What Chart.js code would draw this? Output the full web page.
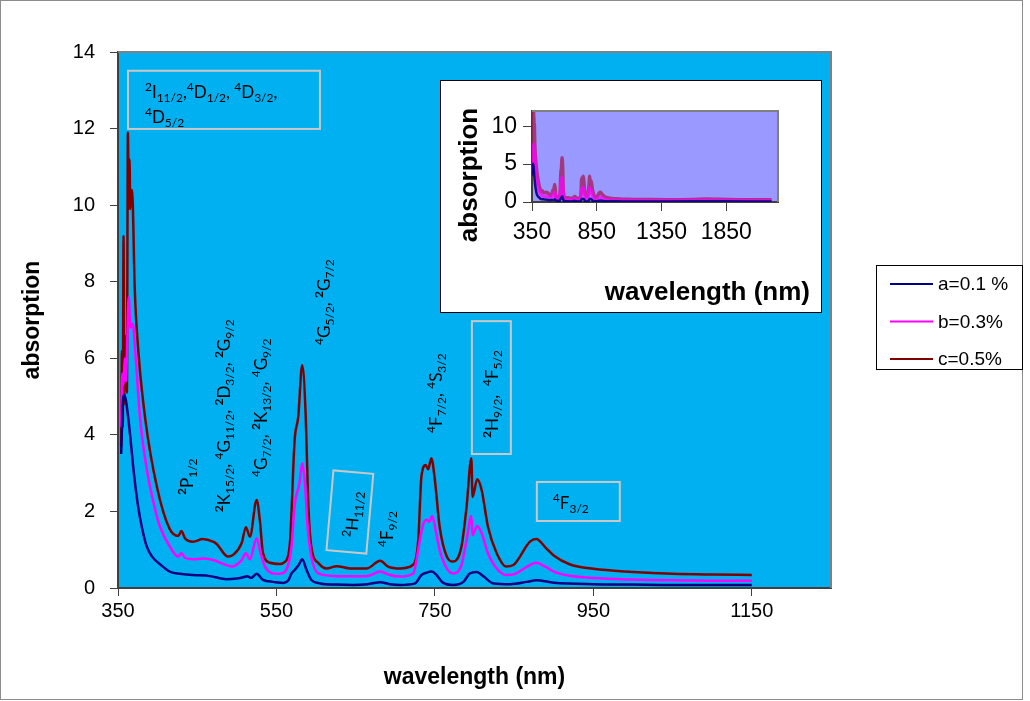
<!DOCTYPE html>
<html><head><meta charset="utf-8">
<script src="https://cdn.jsdelivr.net/npm/chart.js@4.4.0/dist/chart.umd.min.js"></script>
<style>
html,body{margin:0;padding:0;background:#fff;}
#wrap{position:relative;width:1030px;height:701px;overflow:hidden;}
#main{position:absolute;left:0;top:0;width:1030px;height:701px;}
#inset{position:absolute;left:440px;top:80px;width:382px;height:233px;}
</style></head><body>
<div id="wrap"><canvas id="main" width="1030" height="701"></canvas><canvas id="inset" width="382" height="233"></canvas></div>
<script>
// ---------------- data ----------------
const seriesLabels = ['a=0.1 %', 'b=0.3%', 'c=0.5%'];

const aWavelength = [354,356,358,360,362,365.5,369,372,376,380,386,393,403,416,428,445,466,487,500,508,513,518,525,533,546,559,565,569,573,578,582.5,588,594,605,625,647,665,681,693,706,725,733,739.5,746,752,760,773,786,794,803,811,824,845,866,878,900,950,1000,1050,1100,1150];
const aValues = [3.5,4.8,5.05,4.9,4.6,3.95,3.2,2.65,2.05,1.6,1.1,0.82,0.62,0.42,0.37,0.34,0.31,0.23,0.25,0.28,0.31,0.26,0.37,0.21,0.16,0.13,0.2,0.38,0.47,0.6,0.75,0.47,0.21,0.12,0.09,0.08,0.1,0.15,0.1,0.08,0.12,0.34,0.4,0.43,0.34,0.14,0.08,0.16,0.38,0.42,0.31,0.12,0.1,0.16,0.2,0.14,0.1,0.09,0.08,0.08,0.08];

const bWavelength = [354,355.5,357,358.5,360,361.5,363.5,365.5,368.5,372,378,386.5,397,403,416,426,430,434.5,445,457.5,470,483,493.5,506,511.5,516.5,525,530,535.5,546,554,561,569,573,579,582.5,586,589,594,603,626,664,681,693,706,722.5,731,735,739.5,743,746.5,751,756,765,773,783.5,790,796,797.5,803.5,809,817,828,840,851,870,878,890,900,920,950,1000,1050,1100,1150];
const bValues = [4.2,5.6,5.3,6.0,5.4,6.3,7.6,6.8,6.9,6.1,4.4,3.08,2.04,1.6,1.06,0.82,0.91,0.79,0.75,0.77,0.73,0.63,0.56,0.73,0.91,0.75,1.30,0.91,0.56,0.38,0.37,0.43,1.08,2.17,2.73,3.26,2.73,1.69,0.82,0.38,0.31,0.31,0.43,0.34,0.30,0.38,1.25,1.65,1.78,1.73,1.88,1.51,0.99,0.51,0.38,0.60,1.25,1.88,1.38,1.62,1.43,0.91,0.51,0.34,0.37,0.60,0.66,0.55,0.43,0.32,0.26,0.22,0.20,0.19,0.19];

const cWavelength = [354,355,356,357,357.8,358.5,359.5,360.5,361.2,362.5,363.5,364.5,365.5,366.5,368.5,371,376,384.5,399,415,426,430,434.5,445,457,470,474.5,489,495,506,511.5,516.5,525,529,533,542,554,561,567,573,577.5,582.5,587,590,594,603,613,626,643,664,681,691,706,722,729,733,738.5,741.5,745.5,750,756,765,773,783.5,790,796,797.5,803.5,809,817,828,840,849,870,878,890,900,920,950,1000,1050,1100,1150];
const cValues = [3.7,6.2,4.2,9.2,4.8,6.6,5.9,6.6,5.1,11.9,9.9,11.2,9.9,10.4,10.1,7.9,6.1,4.4,2.65,1.55,1.36,1.49,1.3,1.21,1.28,1.21,1.15,0.82,0.86,1.17,1.59,1.34,2.30,1.78,0.91,0.66,0.63,0.69,1.17,3.87,4.47,5.82,4.47,2.30,1.08,0.65,0.51,0.57,0.51,0.51,0.71,0.56,0.51,0.60,1.25,2.91,3.21,3.10,3.39,2.82,1.60,0.82,0.69,1.08,2.12,3.39,2.38,2.84,2.56,1.60,0.91,0.56,0.60,1.21,1.28,1.05,0.85,0.62,0.50,0.42,0.37,0.35,0.34];

// extension of the spectra shown only in the inset (1150-2200 nm)
const tailWavelength = [1200,1400,1600,1700,1800,2000,2200];
const aTail = [0.08,0.08,0.09,0.1,0.09,0.08,0.08];
const bTail = [0.18,0.17,0.2,0.22,0.2,0.17,0.17];
const cTail = [0.33,0.3,0.33,0.38,0.35,0.3,0.3];

const xTickValues = [350,550,750,950,1150];
const xTickLabels = ['350','550','750','950','1150'];
const yTickValues = [0,2,4,6,8,10,12,14];
const yTickLabels = ['0','2','4','6','8','10','12','14'];
const insetXTickValues = [350,850,1350,1850];
const insetXTickLabels = ['350','850','1350','1850'];
const insetYTickValues = [0,5,10];
const insetYTickLabels = ['0','5','10'];

// level labels (^ superscript, ^* bold superscript, _{} subscript), anchored in data units
const levelLabels = [
  {text:'^2I_{11/2},^4D_{1/2}, ^4D_{3/2},', x:384, y:12.80, rot:0},
  {text:'^4D_{5/2}', x:384, y:12.14, rot:0},
  {text:'^*2P_{1/2}', x:444.6, y:2.43, rot:-90},
  {text:'^*2K_{15/2}, ^4G_{11/2}, ^*2D_{3/2}, ^*2G_{9/2}', x:491.3, y:1.98, rot:-90},
  {text:'^4G_{7/2}, ^*2K_{13/2}, ^4G_{9/2}', x:538, y:2.90, rot:-90},
  {text:'^4G_{5/2}, ^*2G_{7/2}', x:617.5, y:6.35, rot:-90},
  {text:'^2H_{11/2}', x:651.6, y:1.31, rot:-85},
  {text:'^4F_{9/2}', x:697, y:1.07, rot:-90},
  {text:'^4F_{7/2}, ^4S_{3/2}', x:758.8, y:4.05, rot:-90},
  {text:'^*2H_{9/2},  ^4F_{5/2}', x:829.5, y:3.92, rot:-90},
  {text:'^4F_{3/2}', x:898.9, y:2.06, rot:0}
];
const labelBoxes = [
  {x1:362.6, x2:604.9, y1:13.51, y2:11.99},
  {x1:796.7, x2:845.9, y1:6.97, y2:3.50},
  {x1:878.7, x2:983.4, y1:2.77, y2:1.75}
];
const tiltedBoxes = [ {cx:642.7, cy:1.985, w:40, h:80, angle:5} ];

// ---------------- helpers ----------------
const colors = ['#000080', '#FF00FF', '#800000'];
const insetColors = ['rgba(0,0,128,0.9)', 'rgba(255,0,255,0.75)', 'rgba(165,25,85,0.75)'];
const pts = (xs, ys) => xs.map((x, i) => ({x: x, y: ys[i]}));

function parseRich(s){
  const segs=[]; let buf=''; let i=0;
  const flush=()=>{ if(buf){segs.push({t:buf,m:'n'}); buf='';} };
  while(i<s.length){
    const ch=s[i];
    if(ch==='^'||ch==='_'){
      flush();
      let bold=false;
      if(s[i+1]==='*'){ bold=true; i++; }
      let t;
      if(s[i+1]==='{'){ const j=s.indexOf('}',i+2); t=s.slice(i+2,j); i=j+1; }
      else { t=s[i+1]; i+=2; }
      segs.push({t:t, m: ch==='^'?'sup':'sub', b:bold});
    } else { buf+=ch; i++; }
  }
  flush(); return segs;
}
function drawRich(ctx, s, x, y, size){
  const segs=parseRich(s); let cx=x;
  ctx.textBaseline='alphabetic'; ctx.textAlign='left';
  for(const g of segs){
    const fs = g.m==='n' ? size : Math.round(size*0.72);
    ctx.font = (g.b?'bold ':'') + fs + 'px Lato, "Open Sans", sans-serif';
    const dy = g.m==='sup' ? -size*0.40 : (g.m==='sub' ? size*0.24 : 0);
    ctx.fillText(g.t, cx, y+dy);
    cx += ctx.measureText(g.t).width;
  }
}

const mainDecor = {
  id:'mainDecor',
  beforeDraw(chart){
    const {ctx, chartArea:a} = chart;
    ctx.save();
    ctx.fillStyle='#fff'; ctx.fillRect(0,0,chart.width,chart.height);
    ctx.fillStyle='#00B0F0';
    ctx.fillRect(a.left, a.top, a.right-a.left, a.bottom-a.top);
    ctx.strokeStyle='#8c8c8c'; ctx.lineWidth=1;
    ctx.strokeRect(0.5,0.5,1022,699);
    ctx.restore();
  },
  afterDraw(chart){
    const {ctx, chartArea:a, scales:{x, y}} = chart;
    ctx.save();
    ctx.strokeStyle='#808080'; ctx.lineWidth=2;
    ctx.beginPath(); ctx.moveTo(a.left, a.top); ctx.lineTo(a.right, a.top); ctx.lineTo(a.right, a.bottom); ctx.stroke();
    ctx.strokeStyle='#C8C8C8'; ctx.lineWidth=2;
    for(const b of labelBoxes){
      const x1=x.getPixelForValue(b.x1), x2=x.getPixelForValue(b.x2);
      const y1=y.getPixelForValue(b.y1), y2=y.getPixelForValue(b.y2);
      ctx.strokeRect(x1, y1, x2-x1, y2-y1);
    }
    for(const b of tiltedBoxes){
      ctx.save();
      ctx.translate(x.getPixelForValue(b.cx), y.getPixelForValue(b.cy));
      ctx.rotate(b.angle*Math.PI/180);
      ctx.strokeRect(-b.w/2, -b.h/2, b.w, b.h);
      ctx.restore();
    }
    ctx.fillStyle='#000';
    for(const l of levelLabels){
      ctx.save();
      ctx.translate(x.getPixelForValue(l.x), y.getPixelForValue(l.y));
      ctx.rotate(l.rot*Math.PI/180);
      drawRich(ctx, l.text, 0, 0, 17);
      ctx.restore();
    }
    const lx=876, ly=265, lw=146, lh=104;
    ctx.fillStyle='#fff'; ctx.fillRect(lx,ly,lw,lh);
    ctx.strokeStyle='#000'; ctx.lineWidth=1; ctx.strokeRect(lx+0.5,ly+0.5,lw,lh);
    chart.data.datasets.forEach((ds,i)=>{
      const ry = 284 + i*37.5;
      ctx.strokeStyle=ds.borderColor; ctx.lineWidth=2;
      ctx.beginPath(); ctx.moveTo(890, ry); ctx.lineTo(933, ry); ctx.stroke();
      ctx.fillStyle='#000'; ctx.font='19px "Liberation Sans", Arial, sans-serif';
      ctx.textBaseline='middle'; ctx.textAlign='left';
      ctx.fillText(ds.label, 938, ry+1);
    });
    ctx.restore();
  }
};

const insetDecor = {
  id:'insetDecor',
  beforeDraw(chart){
    const {ctx, chartArea:a} = chart;
    ctx.save();
    ctx.fillStyle='#fff'; ctx.fillRect(0,0,chart.width,chart.height);
    ctx.strokeStyle='#000'; ctx.lineWidth=1; ctx.strokeRect(0.5,0.5,chart.width-1,chart.height-1);
    ctx.fillStyle='#9999FF';
    ctx.fillRect(a.left, a.top, a.right-a.left, a.bottom-a.top);
    ctx.restore();
  },
  afterDraw(chart){
    const {ctx, chartArea:a} = chart;
    ctx.save();
    ctx.strokeStyle='#808080'; ctx.lineWidth=2;
    ctx.beginPath(); ctx.moveTo(a.left, a.top); ctx.lineTo(a.right, a.top); ctx.lineTo(a.right, a.bottom); ctx.stroke();
    ctx.fillStyle='#000';
    ctx.font='bold 26px "Liberation Sans", Arial, sans-serif';
    ctx.textBaseline='middle';
    ctx.save(); ctx.translate(30, 95); ctx.rotate(-Math.PI/2); ctx.textAlign='center'; ctx.fillText('absorption', 0, 0); ctx.restore();
    ctx.textAlign='right'; ctx.fillText('wavelength (nm)', 370, 213);
    ctx.restore();
  }
};

const tickFont = {family:'"Liberation Sans", Arial, sans-serif', size:20};

new Chart(document.getElementById('main'), {
  type:'line',
  data:{ datasets:[
    {label:seriesLabels[0], data:pts(aWavelength,aValues), borderColor:colors[0], borderWidth:2.5, pointRadius:0, cubicInterpolationMode:'monotone', fill:false},
    {label:seriesLabels[1], data:pts(bWavelength,bValues), borderColor:colors[1], borderWidth:2.5, pointRadius:0, cubicInterpolationMode:'monotone', fill:false},
    {label:seriesLabels[2], data:pts(cWavelength,cValues), borderColor:colors[2], borderWidth:2.5, pointRadius:0, cubicInterpolationMode:'monotone', fill:false}
  ]},
  options:{
    responsive:false, animation:false, devicePixelRatio:1,
    layout:{padding:{left:10, top:52, right:199, bottom:10}},
    plugins:{legend:{display:false}, tooltip:{enabled:false}},
    scales:{
      x:{type:'linear', min:350, max:1250,
        afterBuildTicks:(s)=>{ s.ticks = xTickValues.map(v=>({value:v})); },
        afterFit:(s)=>{ s.height = 103; },
        ticks:{autoSkip:false, maxRotation:0, font:tickFont, color:'#000', padding:3, callback:(v,i)=>xTickLabels[i]},
        grid:{drawOnChartArea:false, tickLength:8, color:'#404040', lineWidth:1},
        border:{color:'#404040', width:2},
        title:{display:true, text:'wavelength (nm)', color:'#000', font:{family:'"Liberation Sans", Arial, sans-serif', size:23, weight:'bold'}, padding:{top:0,bottom:0}}
      },
      y:{type:'linear', min:0, max:14,
        afterBuildTicks:(s)=>{ s.ticks = yTickValues.map(v=>({value:v})); },
        afterFit:(s)=>{ s.width = 108; },
        ticks:{autoSkip:false, font:tickFont, color:'#000', padding:15, callback:(v,i)=>yTickLabels[i]},
        grid:{drawOnChartArea:false, tickLength:8, color:'#404040', lineWidth:1},
        border:{color:'#404040', width:2},
        title:{display:true, text:'absorption', color:'#000', font:{family:'"Liberation Sans", Arial, sans-serif', size:23, weight:'bold'}, padding:{top:9,bottom:0}}
      }
    }
  },
  plugins:[mainDecor]
});

const insetFont = {family:'"Liberation Sans", Arial, sans-serif', size:23};
new Chart(document.getElementById('inset'), {
  type:'line',
  data:{ datasets:[
    {label:seriesLabels[0], data:pts(aWavelength.concat(tailWavelength), aValues.concat(aTail)), borderColor:insetColors[0], borderWidth:2.5, pointRadius:0, cubicInterpolationMode:'monotone', fill:false},
    {label:seriesLabels[1], data:pts(bWavelength.concat(tailWavelength), bValues.concat(bTail)), borderColor:insetColors[1], borderWidth:3.5, pointRadius:0, cubicInterpolationMode:'monotone', fill:false},
    {label:seriesLabels[2], data:pts(cWavelength.concat(tailWavelength), cValues.concat(cTail)), borderColor:insetColors[2], borderWidth:3.5, pointRadius:0, cubicInterpolationMode:'monotone', fill:false}
  ]},
  options:{
    responsive:false, animation:false, devicePixelRatio:1,
    layout:{padding:{left:0, top:31, right:44, bottom:51}},
    plugins:{legend:{display:false}, tooltip:{enabled:false}},
    scales:{
      x:{type:'linear', min:350, max:2250,
        afterBuildTicks:(s)=>{ s.ticks = insetXTickValues.map(v=>({value:v})); },
        afterFit:(s)=>{ s.height = 60; },
        ticks:{autoSkip:false, maxRotation:0, font:insetFont, color:'#000', padding:8, callback:(v,i)=>insetXTickLabels[i]},
        grid:{drawOnChartArea:false, tickLength:9, color:'#404040', lineWidth:1},
        border:{color:'#404040', width:2}
      },
      y:{type:'linear', min:0, max:12,
        afterBuildTicks:(s)=>{ s.ticks = insetYTickValues.map(v=>({value:v})); },
        afterFit:(s)=>{ s.width = 92; },
        ticks:{autoSkip:false, font:insetFont, color:'#000', padding:6, callback:(v,i)=>insetYTickLabels[i]},
        grid:{drawOnChartArea:false, tickLength:9, color:'#404040', lineWidth:1},
        border:{color:'#404040', width:2}
      }
    }
  },
  plugins:[insetDecor]
});
</script>
</body></html>
